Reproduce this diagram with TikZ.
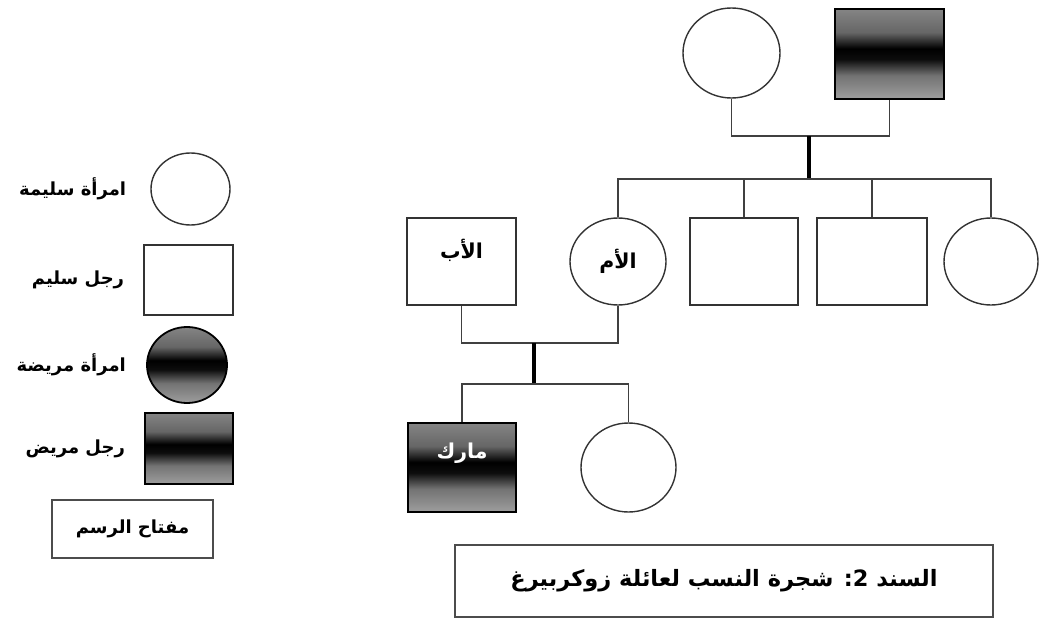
\documentclass[tikz,border=0pt]{standalone}
\usepackage{fontspec}
\usepackage{tikz}
\usetikzlibrary{shapes.geometric,positioning}
\newfontfamily\arabicfont[Script=Arabic]{DejaVu Sans}
\TeXXeTstate=1
\pgfdeclareverticalshading{sickshade}{100bp}{color(0bp)=(black!38); color(25bp)=(black!38); color(38bp)=(black!55); color(47bp)=(black!95); color(53bp)=(black); color(62bp)=(black!60); color(75bp)=(black!48); color(100bp)=(black!48)}
\tikzset{woman/.style={ellipse,draw=black!80,line width=1.4pt,inner sep=0pt}}
\tikzset{man/.style={rectangle,draw=black!80,line width=1.4pt,inner sep=0pt}}
\tikzset{sick/.style={draw=black,line width=1.8pt,shading=sickshade}}
\tikzset{link/.style={draw=black!75,line width=1.5pt}}
\tikzset{bar/.style={draw=black,line width=3.5pt}}
\tikzset{arab/.style={inner sep=0pt,font=\arabicfont\bfseries\fontsize{18}{21}\selectfont}}
\tikzset{big arab/.style={inner sep=0pt,font=\arabicfont\bfseries\fontsize{20.5}{24}\selectfont}}
\tikzset{titlebox/.style={rectangle,draw=black!70,line width=1.6pt,inner sep=0pt,font=\arabicfont\bfseries\fontsize{22.5}{26}\selectfont}}

\begin{document}
\begin{tikzpicture}[x=1pt,y=-1pt]
  \useasboundingbox (0,0) rectangle (1039,618);
  % key
  \node[woman,minimum width=79pt,minimum height=72pt] (kw) at (190.5,189) {};
  \node[man,minimum width=89pt,minimum height=70pt] (km) at (188.5,280) {};
  \node[woman,sick,minimum width=80pt,minimum height=76pt] (ksw) at (187,365) {};
  \node[man,sick,minimum width=88pt,minimum height=71pt] (ksm) at (189,448.5) {};
  \node[arab,left=24pt of kw] (kwtxt) {\beginR امرأة سليمة\endR};
  \node[arab,left=19pt of km] (kmtxt) {\beginR رجل سليم\endR};
  \node[arab,left=20pt of ksw] (kswtxt) {\beginR امرأة مريضة\endR};
  \node[arab,left=19pt of ksm] (ksmtxt) {\beginR رجل مريض\endR};
  \node[man,arab,draw=black!70,minimum width=161pt,minimum height=58pt] (key) at (132.5,529) {\beginR مفتاح الرسم\endR};

  % grandparents
  \node[woman,minimum width=97pt,minimum height=90pt] (gm) at (731.5,53) {};
  \node[man,sick,minimum width=109pt,minimum height=90pt] (gf) at (889.5,54) {};
  \coordinate (gpmid) at (809,136);
  \coordinate (sibbar) at (809,179);

  % second generation
  \node[man,minimum width=109pt,minimum height=87pt] (father) at (461.5,261.5) {};
  \node[big arab] (fathertxt) at ([yshift=11pt]father.center) {\beginR الأب\endR};
  \node[woman,big arab,minimum width=96pt,minimum height=87pt] (mother) at (618,261.5) {\beginR الأم\endR};
  \node[man,minimum width=108pt,minimum height=87pt] (b1) at (744,261.5) {};
  \node[man,minimum width=110pt,minimum height=87pt] (b2) at (872,261.5) {};
  \node[woman,minimum width=94pt,minimum height=87pt] (sis) at (991,261.5) {};
  \coordinate (parmid) at (534,343);
  \coordinate (kidbar) at (534,384);

  % third generation
  \node[man,sick,minimum width=108pt,minimum height=89pt] (mark) at (462,467.5) {};
  \node[big arab,text=white] (marktxt) at ([yshift=14pt]mark.center) {\beginR مارك\endR};
  \node[woman,minimum width=95pt,minimum height=89pt] (dau) at (628.5,467.5) {};

  \node[titlebox,minimum width=538pt,minimum height=72pt] (title) at (724,581) {\beginR السند 2: شجرة النسب لعائلة زوكربيرغ\endR};

  \draw[link] (gm.south) |- (gpmid) -| (gf.south);
  \draw[bar] (gpmid) -- (sibbar);
  \draw[link] (mother.north) |- (sibbar) -| (sis.north);
  \draw[link] (sibbar -| b1.north) -- (b1.north);
  \draw[link] (sibbar -| b2.north) -- (b2.north);
  \draw[link] (father.south) |- (parmid) -| (mother.south);
  \draw[bar] (parmid) -- (kidbar);
  \draw[link] (mark.north) |- (kidbar) -| (dau.north);
\end{tikzpicture}
\end{document}
